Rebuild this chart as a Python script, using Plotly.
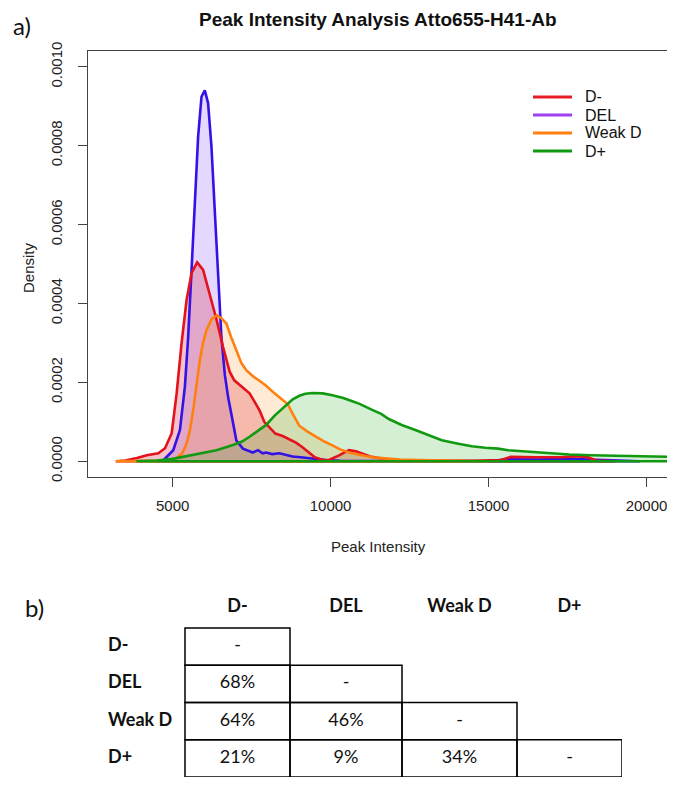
import plotly.graph_objects as go

# the page body keeps an 8px margin, so the figure is 8px smaller than the
# 675x785 window on each side it is offset from; positions below are window pixels
PAGE_OFF = 8
W, H = 675 - PAGE_OFF, 785 - PAGE_OFF

# density curves: x = peak intensity, y = density in units of 1e-4
dneg_x = [3200, 3500, 3867, 4181, 4547, 4758, 4969, 5126, 5283, 5441, 5598, 5775, 5964, 6174,
          6385, 6593, 6804, 6950, 7119, 7300, 7434, 7600, 7749, 7900, 8064, 8250, 8482, 8700,
          8904, 9100, 9300, 9500, 9750, 9950, 10268, 10583, 10800, 11001, 11250, 11527, 12000,
          13000, 14500, 15400, 15700, 16500, 17300, 17800, 18150, 18400, 19000]
dneg_y = [0, 0.02, 0.08, 0.15, 0.2, 0.33, 0.71, 1.72, 3.0, 4.09, 4.77, 5.04, 4.85, 4.26,
          3.6, 2.9, 2.27, 2.05, 1.93, 1.8, 1.72, 1.5, 1.29, 1.0, 0.85, 0.7, 0.64, 0.56,
          0.47, 0.36, 0.22, 0.1, 0.03, 0.03, 0.15, 0.28, 0.25, 0.2, 0.12, 0.08, 0.02,
          0.01, 0.01, 0.03, 0.11, 0.1, 0.1, 0.13, 0.1, 0.02, 0]

del_x = [4500, 4700, 5019, 5230, 5387, 5491, 5598, 5702, 5806, 5913, 6017, 6121, 6228, 6332,
         6436, 6543, 6650, 6760, 6858, 7015, 7224, 7400, 7538, 7700, 7850, 7960, 8150, 8378,
         8600, 8797, 9050, 9323, 9600, 9849, 10300, 11000, 12000, 13500, 15000, 15600, 16500,
         17500, 18200, 19000, 19500, 19800]
del_y = [0, 0.02, 0.28, 0.79, 1.89, 3.15, 4.85, 6.55, 8.23, 9.24, 9.4, 9.08, 7.98, 6.37,
         4.85, 3.15, 2.2, 1.6, 1.2, 0.53, 0.32, 0.26, 0.22, 0.28, 0.2, 0.22, 0.18, 0.2,
         0.15, 0.12, 0.1, 0.07, 0.04, 0.03, 0.01, 0.01, 0.005, 0.01, 0.005, 0.05, 0.04,
         0.06, 0.04, 0.03, 0.02, 0]

weak_x = [3200, 3500, 4000, 4500, 4900, 5126, 5300, 5441, 5549, 5649, 5750, 5860, 5960, 6070,
          6230, 6404, 6550, 6700, 6850, 7015, 7170, 7330, 7550, 7749, 7950, 8167, 8380, 8640,
          8800, 9008, 9270, 9534, 9800, 10057, 10300, 10583, 10850, 11109, 11421, 11740, 12200,
          12800, 13500, 14200, 15000]
weak_y = [0, 0.01, 0.01, 0.01, 0.03, 0.08, 0.2, 0.45, 0.8, 1.29, 1.9, 2.56, 3.0, 3.32,
          3.6, 3.7, 3.62, 3.49, 3.15, 2.82, 2.5, 2.31, 2.15, 2.04, 1.92, 1.76, 1.62, 1.45,
          1.2, 0.9, 0.75, 0.62, 0.5, 0.4, 0.3, 0.22, 0.17, 0.13, 0.09, 0.07, 0.04,
          0.03, 0.02, 0.01, 0]

dpos_x = [3850, 4500, 5000, 5334, 5860, 6385, 6908, 7200, 7434, 7700, 7960, 8220, 8482, 8640,
          8800, 9008, 9200, 9427, 9750, 10057, 10400, 10686, 10897, 11316, 11600, 11842, 12250,
          12682, 13100, 13520, 14000, 14465, 14900, 15305, 15620, 16250, 16880, 17550, 18243,
          19294, 20554, 21500]
dpos_y = [0, 0.02, 0.06, 0.11, 0.2, 0.28, 0.41, 0.5, 0.62, 0.78, 0.92, 1.15, 1.35, 1.45,
          1.57, 1.66, 1.71, 1.73, 1.72, 1.67, 1.6, 1.52, 1.46, 1.3, 1.2, 1.07, 0.92,
          0.79, 0.66, 0.53, 0.45, 0.38, 0.34, 0.32, 0.28, 0.24, 0.2, 0.17, 0.15,
          0.13, 0.11, 0.1]

groups = ["D-", "DEL", "Weak D", "D+"]
overlap = [["-"],
           ["68%", "-"],
           ["64%", "46%", "-"],
           ["21%", "9%", "34%", "-"]]

# drawing order in the plot
curves = [
    ("DEL", del_x, del_y, "#3412e6", "rgba(150,100,255,0.25)"),
    ("D-", dneg_x, dneg_y, "#e4121c", "rgba(215,40,70,0.28)"),
    ("Weak D", weak_x, weak_y, "#ff800e", "rgba(255,150,50,0.2)"),
    ("D+", dpos_x, dpos_y, "#119a11", "rgba(40,175,40,0.2)"),
]
legend_colors = {"D-": "#e81c24", "DEL": "#a040f0", "Weak D": "#ff8010", "D+": "#119a11"}


def fx(px):
    return (px - PAGE_OFF) / W


def fy(py):
    return 1 - (py - PAGE_OFF) / H


def closed(xs, ys):
    # close the polygon along the baseline, like R's polygon() border
    return list(xs) + [xs[-1], xs[0]], [v * 1e-4 for v in ys] + [0, 0]


fig = go.Figure()

for name, xs, ys, color, fill in curves:
    px, py = closed(xs, ys)
    fig.add_trace(go.Scatter(x=px, y=py, mode="lines", fill="toself", fillcolor=fill,
                             line=dict(width=0), showlegend=False, hoverinfo="skip"))
for name, xs, ys, color, fill in curves:
    px, py = closed(xs, ys)
    fig.add_trace(go.Scatter(x=px, y=py, mode="lines", line=dict(color=color, width=2.6),
                             showlegend=False, hoverinfo="skip"))

# table b): lower-triangular grid on its own axes
col_w = [105, 112, 115, 105]
edges = [0]
for w in col_w:
    edges.append(edges[-1] + w)
centers = [(edges[j] + edges[j + 1]) / 2 for j in range(len(col_w))]

for i, row in enumerate(overlap):
    for j in range(len(row)):
        fig.add_shape(type="rect", xref="x2", yref="y2", x0=edges[j], x1=edges[j + 1],
                      y0=i, y1=i + 1, line=dict(color="black", width=1.5))

cell_x, cell_y, cell_t = [], [], []
for i, row in enumerate(overlap):
    for j, v in enumerate(row):
        cell_x.append(centers[j])
        cell_y.append(i + 0.5)
        cell_t.append(v)

tfont = dict(family="Lato, Carlito, sans-serif", size=18, color="#111")
fig.add_trace(go.Scatter(x=cell_x, y=cell_y, text=cell_t, mode="text", xaxis="x2", yaxis="y2",
                         textfont=tfont, showlegend=False, hoverinfo="skip", cliponaxis=False))
fig.add_trace(go.Scatter(x=centers, y=[-0.55] * 4, text=["<b>%s</b>" % g for g in groups],
                         mode="text", xaxis="x2", yaxis="y2", textfont=tfont,
                         showlegend=False, hoverinfo="skip", cliponaxis=False))
fig.add_trace(go.Scatter(x=[-77] * 4, y=[i + 0.5 for i in range(4)],
                         text=["<b>%s</b>" % g for g in groups], mode="text",
                         textposition="middle right", xaxis="x2", yaxis="y2", textfont=tfont,
                         showlegend=False, hoverinfo="skip", cliponaxis=False))

axfont = dict(family="Liberation Sans, Arial, sans-serif", size=15, color="#222")
fig.update_layout(
    width=W, height=H,
    margin=dict(l=0, r=0, t=0, b=0),
    paper_bgcolor="white", plot_bgcolor="white",
    showlegend=False,
    xaxis=dict(domain=[fx(88), fx(668)], range=[2320, 20680], tick0=0, dtick=5000,
               tickformat="d", ticks="outside", ticklen=9, tickcolor="#444", showline=True,
               mirror=True, linecolor="#444", linewidth=1, showgrid=False, zeroline=False,
               tickfont=axfont, ticklabelstandoff=6, automargin=False),
    yaxis=dict(domain=[fy(477), fy(51)], range=[-0.00004, 0.00104], tick0=0,
               dtick=0.0002, tickformat=".4f", tickangle=-90, ticks="outside", ticklen=9,
               tickcolor="#444", showline=True, mirror=True, linecolor="#444", linewidth=1,
               showgrid=False, zeroline=False, tickfont=axfont, ticklabelstandoff=10,
               automargin=False),
    xaxis2=dict(domain=[fx(100), fx(622)], range=[-85, edges[-1]], visible=False,
                fixedrange=True),
    yaxis2=dict(domain=[fy(777), fy(590)], range=[4, -1.02], visible=False,
                fixedrange=True),
)


def note(text, x, y, font, **kw):
    fig.add_annotation(text=text, x=fx(x), y=fy(y), xref="paper", yref="paper",
                       showarrow=False, font=font, **kw)


note("<b>Peak Intensity Analysis Atto655-H41-Ab</b>", 378, 19,
     dict(family="Liberation Sans, Arial, sans-serif", size=19, color="#111"),
     xanchor="center", yanchor="middle")
note("Density", 28, 268, axfont, textangle=-90, xanchor="center", yanchor="middle")
note("Peak Intensity", 378, 546, axfont, xanchor="center", yanchor="middle")
panel_font = dict(family="Lato, Carlito, sans-serif", size=24, color="#111")
note("a)", 22, 25, panel_font, xanchor="center", yanchor="middle")
note("b)", 34, 607, panel_font, xanchor="center", yanchor="middle")

# legend (top right, inside the plot box)
lg_font = dict(family="Liberation Sans, Arial, sans-serif", size=16, color="#111")
for k, name in enumerate(groups):
    ly = 97 + 18 * k
    fig.add_shape(type="line", xref="paper", yref="paper", x0=fx(533), x1=fx(572),
                  y0=fy(ly), y1=fy(ly), line=dict(color=legend_colors[name], width=2.8))
    note(name, 583, ly, lg_font, xanchor="left", yanchor="middle")

fig.write_html("out.html")
